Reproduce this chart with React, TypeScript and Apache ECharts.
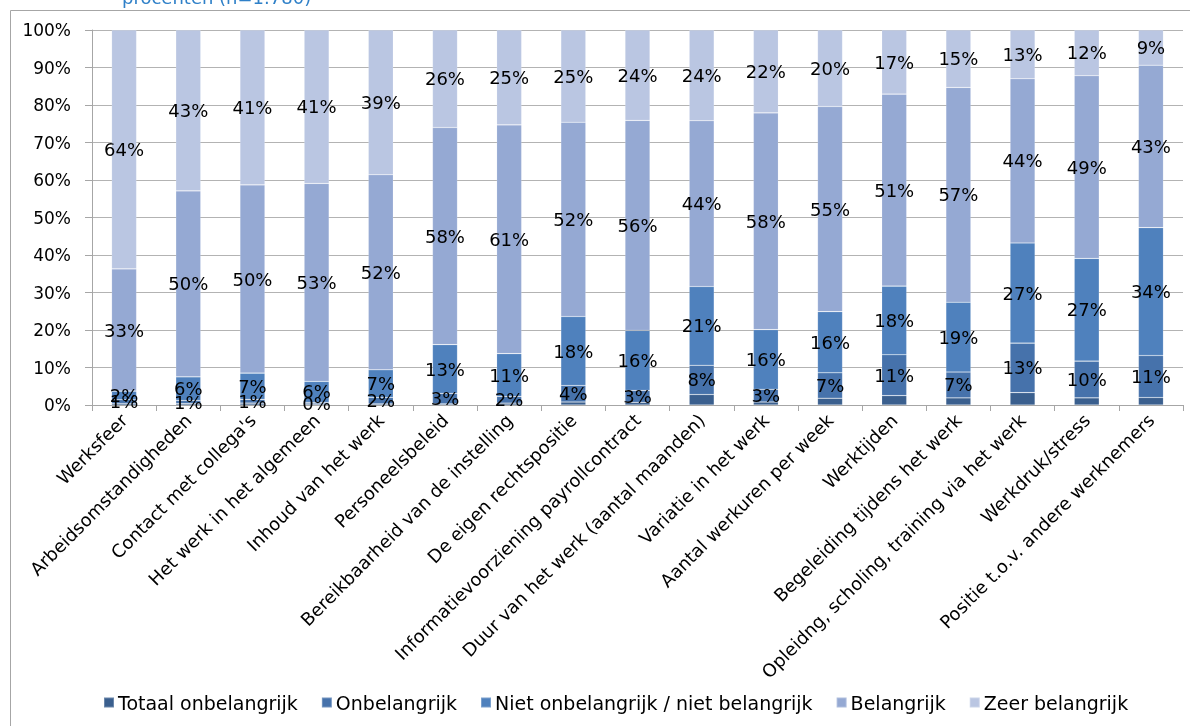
import React, { useEffect, useRef } from "react";
import * as echarts from "echarts";

const categories = [
  "Werksfeer",
  "Arbeidsomstandigheden",
  "Contact met collega's",
  "Het werk in het algemeen",
  "Inhoud van het werk",
  "Personeelsbeleid",
  "Bereikbaarheid van de instelling",
  "De eigen rechtspositie",
  "Informatievoorziening payrollcontract",
  "Duur van het werk (aantal maanden)",
  "Variatie in het werk",
  "Aantal werkuren per week",
  "Werktijden",
  "Begeleiding tijdens het werk",
  "Opleidng, scholing, training via het werk",
  "Werkdruk/stress",
  "Positie t.o.v. andere werknemers",
];

const seriesNames = [
  "Totaal onbelangrijk",
  "Onbelangrijk",
  "Niet onbelangrijk / niet belangrijk",
  "Belangrijk",
  "Zeer belangrijk",
];

const totaalOnbelangrijk = [0.4, 0.4, 0.5, 0.3, 0.3, 0.3, 0.5, 0.8, 0.7, 2.8, 0.8, 1.8, 2.5, 1.9, 3.3, 1.9, 2.0];
const onbelangrijk = [1.0, 0.8, 1.0, 0.4, 1.7, 2.8, 1.8, 4.4, 3.2, 7.8, 3.4, 6.8, 10.9, 6.9, 13.2, 9.8, 11.2];
const nietOnbelangrijk = [2.3, 6.3, 7.0, 5.6, 7.4, 13.0, 11.4, 18.4, 16.0, 21.0, 15.9, 16.3, 18.3, 18.6, 26.7, 27.4, 34.1];
const belangrijk = [32.6, 49.6, 50.2, 52.8, 52.0, 57.9, 61.0, 51.8, 56.0, 44.2, 57.8, 54.7, 51.2, 57.3, 43.8, 48.7, 43.3];
const zeerBelangrijk = [63.7, 42.9, 41.3, 40.9, 38.6, 26.0, 25.3, 24.6, 24.1, 24.2, 22.1, 20.4, 17.1, 15.3, 13.0, 12.2, 9.4];

const yTicks = [0, 10, 20, 30, 40, 50, 60, 70, 80, 90, 100];

const colors = ["#3a5f8e", "#4672ab", "#4f81bd", "#95a9d3", "#bac6e2"];

const FONT = "DejaVu Sans";

export default function App() {
  const ref = useRef<HTMLDivElement>(null);
  useEffect(() => {
    if (!ref.current) return;
    const chart = echarts.init(ref.current, null, { renderer: "svg" });
    const values = [totaalOnbelangrijk, onbelangrijk, nietOnbelangrijk, belangrijk, zeerBelangrijk];
    const series = values.map((arr, i) => ({
      name: seriesNames[i],
      type: "bar",
      stack: "total",
      barWidth: 25,
      data: arr,
      itemStyle: { color: colors[i], borderColor: "rgba(255,255,255,0.25)", borderWidth: 0.6 },
      label: {
        show: i > 0,
        position: "inside",
        color: "#000",
        fontFamily: FONT,
        fontSize: 18,
        formatter: (p: any) => Math.round(p.value) + "%",
      },
    }));
    chart.setOption({
      animation: false,
      color: colors,
      textStyle: { fontFamily: FONT },
      grid: { left: 92, right: 7, top: 30, bottom: 321 },
      graphic: [
        {
          type: "rect",
          shape: { x: 10.5, y: 10.5, width: 1300, height: 900 },
          style: { fill: "none", stroke: "#a6a6a6", lineWidth: 1 },
          silent: true,
        },
        {
          type: "text",
          x: 122,
          y: -3,
          style: {
            text: "procenten (n=1.780)",
            fill: "#2f80c8",
            fontFamily: FONT,
            fontSize: 18,
            verticalAlign: "middle",
            align: "left",
          },
        },
      ],
      legend: {
        bottom: 9,
        left: 98,
        itemWidth: 10,
        itemHeight: 10,
        itemGap: 23,
        icon: "rect",
        textStyle: { fontFamily: FONT, fontSize: 19, color: "#000", padding: [0, 0, 0, -1] },
        data: seriesNames,
      },
      xAxis: {
        type: "category",
        data: categories,
        axisLine: { show: true, lineStyle: { color: "#a6a6a6", width: 1 } },
        axisTick: { show: true, interval: 0, length: 6, lineStyle: { color: "#a6a6a6" } },
        axisLabel: {
          interval: 0,
          rotate: 45,
          margin: 12,
          color: "#000",
          fontFamily: FONT,
          fontSize: 18,
        },
      },
      yAxis: {
        type: "value",
        min: 0,
        max: 100,
        interval: 10,
        axisLine: { show: true, lineStyle: { color: "#a6a6a6", width: 1 } },
        axisTick: { show: true, length: 7, lineStyle: { color: "#a6a6a6" } },
        splitLine: { show: true, lineStyle: { color: "#b3b3b3", width: 1 } },
        axisLabel: {
          color: "#000",
          fontFamily: FONT,
          fontSize: 17,
          margin: 21,
          formatter: (v: number) => (yTicks.includes(v) ? v + "%" : ""),
        },
      },
      series,
    });
    return () => chart.dispose();
  }, []);
  return (
    <div
      ref={ref}
      style={{ position: "fixed", left: 0, top: 0, width: 1190, height: 726 }}
    />
  );
}
